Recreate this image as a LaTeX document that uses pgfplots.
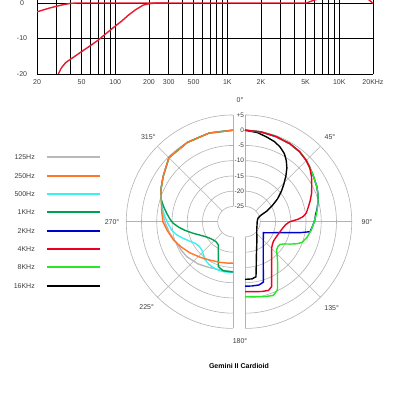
\documentclass[border=0pt]{standalone}
\usepackage{fontspec}
\setmainfont{Liberation Sans}
\usepackage{pgfplots}
\usepackage{pgfplotstable}
\pgfplotsset{compat=1.18}

\definecolor{c125}{RGB}{185,185,185}
\definecolor{c250}{RGB}{255,118,40}
\definecolor{c500}{RGB}{60,240,240}
\definecolor{c1k}{RGB}{0,160,80}
\definecolor{c2k}{RGB}{0,0,205}
\definecolor{c4k}{RGB}{235,0,30}
\definecolor{c8k}{RGB}{40,230,40}
\definecolor{c16k}{RGB}{0,0,0}
\definecolor{fr}{RGB}{230,25,45}
\definecolor{ring}{RGB}{178,178,178}
\definecolor{lbl}{RGB}{60,60,60}

% frequency response (Hz, dB)
\pgfplotstableread{
f db
20 -2.5
23 -1.9
26 -1.4
30 -0.9
35 -0.4
40 -0.1
45 0
100 0
1000 0
5100 0
5500 0.4
6100 0.9
7000 1.6
9000 2.2
14000 2.2
17000 1.6
18200 1.0
19200 0.4
20000 -0.2
}\respFlat
\pgfplotstableread{
f db
31 -20
33 -18.3
36 -16.8
40 -15.8
45 -14.7
50 -13.7
60 -12.0
70 -10.5
85 -8.3
100 -6.5
115 -5.0
130 -3.5
150 -2.0
177 -0.6
200 -0.2
230 0
300 0
}\respCut

% polar responses: angle (deg, clockwise from front), level (dB)
\pgfplotstableread{
a db
360 0
345 0.1
330 0
315 -0.3
303 -2.7
295 -4.0
287 -5.4
278 -6.6
270 -7.6
260 -8.9
249 -10.2
240 -10.7
233 -11.0
220 -12.0
210 -12.9
195 -13.6
180 -13.6
}\pOneTwoFive
\pgfplotstableread{
a db
360 0
345 0.1
330 0
315 -0.3
303 -2.7
295 -4.0
287 -5.4
278 -6.4
270 -7.0
262 -8.3
253 -9.6
244 -11.1
234 -12.6
222 -14.2
211 -15.3
198 -16.0
188 -16.3
180 -16.4
}\pTwoFifty
\pgfplotstableread{
a db
360 0
345 0.1
330 0
315 -0.3
303 -2.7
295 -4.0
287 -5.4
281 -6.4
274.2 -7.6
268 -8.7
262.3 -9.7
257 -11.0
251.5 -12.8
245 -14.6
240.4 -15.7
234 -16.3
227.9 -16.2
222 -15.5
216.2 -14.5
210 -14.0
205.3 -13.7
196.9 -13.4
190 -13.3
180 -13.4
}\pFiveHundred
\pgfplotstableread{
a db
360 0
345 0.1
330 0
315 -0.3
303 -2.7
295 -4.0
287 -5.4
282 -6.8
277.2 -8.1
272 -9.4
268.5 -10.4
264 -12.2
259.8 -14.0
254 -16.3
248 -18.3
241 -19.8
234.2 -20.7
227 -21.2
220.4 -21.4
212.3 -21.0
207.5 -19.5
202 -17.2
198.1 -14.5
191.2 -13.6
180 -13.5
}\pOneK
\pgfplotstableread{
a db
0 0
10 -0.1
20 -0.3
30 -0.5
38 -0.9
45 -1.6
50 -2.3
56 -3.0
64 -3.8
70 -4.5
76 -5.4
80 -6.0
84 -6.7
88.6 -7.1
93 -7.7
98.7 -8.4
101.3 -11.6
103.7 -14.8
107.4 -18.0
113.7 -21.0
121 -23.0
141.8 -20.3
154.5 -16.1
161.05 -11.5
163.1 -9.3
167.5 -8.75
173.8 -8.8
180 -8.85
}\pTwoK
\pgfplotstableread{
a db
0 0
10 -0.1
20 -0.3
30 -0.5
38 -0.9
45 -1.6
50 -2.3
56 -3.7
62 -5.2
67 -6.3
72 -7.5
77 -8.7
82 -9.7
85 -10.9
87.5 -12.7
90 -15.3
94 -16.6
100 -17.5
108 -18.2
116 -18.6
124 -18.7
130 -18.3
134 -17.8
137 -17.2
141.5 -16.0
145.1 -14.7
151.1 -11.9
155.4 -9.0
157.7 -7.0
161.1 -6.2
166.3 -6.45
172.7 -6.86
180 -7.05
}\pFourK
\pgfplotstableread{
a db
0 0
10 -0.1
20 -0.3
30 -0.5
38 -0.9
45 -1.6
50 -2.3
56 -3.0
64 -3.8
70 -4.5
76 -5.4
83 -6.3
90 -7.3
97 -8.1
104 -9.0
110 -10.1
113 -11.5
116.4 -13.5
119.5 -15.2
122.9 -16.3
127 -16.5
131.8 -16.1
140 -13.4
146 -10.9
150 -8.7
154.6 -5.2
159.2 -4.1
165 -4.6
172.4 -5.2
180 -5.4
}\pEightK
\pgfplotstableread{
a db
0 0
8 -0.5
14 -1.3
20 -2.0
25 -2.9
30 -4.2
34 -5.8
38 -7.7
42 -10.0
46 -12.3
50 -14.4
55 -17.0
59 -19.4
64 -22.0
68 -24.4
74 -25.5
80 -25.8
90 -26.0
125.1 -25.3
147.2 -22.8
161 -18.5
166.4 -14.4
168.7 -11.6
173 -11.1
180 -11.1
}\pSixteenK

% each half of the polar plot has its own centre
\pgfplotsset{
  table/left half/.style={
    x expr={233+3.05*(\thisrow{db}+30)*sin(\thisrow{a})},
    y expr={178.3+3.05*(\thisrow{db}+30)*cos(\thisrow{a})}},
  table/right half/.style={
    x expr={245+3.05*(\thisrow{db}+30)*sin(\thisrow{a})},
    y expr={178.3+3.05*(\thisrow{db}+30)*cos(\thisrow{a})}},
}

\newcommand\sm{\fontsize{7}{8}\selectfont}
% one row of the key: vertical position, colour, text
\newcommand\keyrow[3]{%
  \node[anchor=east, inner sep=0pt, text=lbl, font=\sm] at (35,#1) {#3};
  \fill[#2] (46.5,#1-1) rectangle (100,#1+1);
}

\begin{document}
\begin{tikzpicture}[x=1pt,y=1pt]
\useasboundingbox (0,0) rectangle (400,400);

% ---------- frequency response ----------
\begin{axis}[
  at={(37pt,326pt)}, anchor=south west,
  scale only axis, width=336pt, height=74pt,
  xmode=log, xmin=20, xmax=20000, ymin=-20, ymax=0.85,
  axis line style={draw=none},
  xtick={20,50,100,200,300,500,1000,2000,5000,10000,20000},
  xticklabels={20,50,100,200,300,500,1K,2K,5K,10K,20KHz},
  minor xtick={30,40,60,70,80,90,400,600,700,800,900,3000,4000,6000,7000,8000,9000},
  ytick={-20,-10,0},
  grid=both,
  major grid style={black, line width=0.7pt},
  minor grid style={black, line width=0.7pt},
  major tick length=0pt, minor tick length=0pt,
  tick label style={font=\sm, text=lbl},
  /pgf/number format/assume math mode=true,
  xticklabel style={yshift=-2.5pt},
  yticklabel style={anchor=center, xshift=-15pt},
]
\addplot[fr, line width=1.4pt] table[x=f, y=db] {\respFlat};
\addplot[fr, line width=1.4pt] table[x=f, y=db] {\respCut};
\end{axis}

% ---------- polar grid ----------
\begin{scope}[ring, line width=0.6pt]
  \foreach \r in {15.25,30.5,45.75,61,76.25,91.5,106.75} {
    \draw (245,178.3+\r) arc[start angle=90, end angle=-90, radius=\r];
    \draw (233,178.3+\r) arc[start angle=90, end angle=270, radius=\r];
  }
  \foreach \a in {0,45,90,135,180} {
    \draw[shift={(245,178.3)}] ({90-\a}:15.25) -- ({90-\a}:106.75);
  }
  \foreach \a in {180,225,270,315,360} {
    \draw[shift={(233,178.3)}] ({90-\a}:15.25) -- ({90-\a}:106.75);
  }
\end{scope}

% level labels
\foreach \v/\r in {+5/106.75,0/91.5,-5/76.25,-10/61,-15/45.75,-20/30.5,-25/15.25} {
  \node[anchor=east, inner sep=0pt, text=lbl, font=\fontsize{6.5}{7}\selectfont] at (244.3,178.3+\r) {\v};
}

% angle labels
\begin{scope}[text=lbl, font=\sm]
  \node at (240,300) {0°};
  \node at (330,263.3) {45°};
  \node at (367,178.3) {90°};
  \node at (331.7,91.7) {135°};
  \node at (240,59) {180°};
  \node at (146.7,93.3) {225°};
  \node at (112,178.3) {270°};
  \node at (148.3,263.3) {315°};
\end{scope}

% key
\keyrow{243}{c125}{125Hz}
\keyrow{224}{c250}{250Hz}
\keyrow{206}{c500}{500Hz}
\keyrow{188}{c1k}{1KHz}
\keyrow{169}{c2k}{2KHz}
\keyrow{151}{c4k}{4KHz}
\keyrow{133}{c8k}{8KHz}
\keyrow{114}{c16k}{16KHz}

\node[font=\sm\bfseries] at (239,34) {Gemini II Cardioid};

% ---------- polar responses ----------
\begin{axis}[
  at={(0pt,0pt)}, anchor=south west,
  scale only axis, width=400pt, height=400pt,
  xmin=0, xmax=400, ymin=0, ymax=400,
  hide axis, clip=false,
]
\addplot[c125, line width=1.4pt] table[left half] {\pOneTwoFive};
\addplot[c500, line width=1.4pt] table[left half] {\pFiveHundred};
\addplot[c1k, line width=1.4pt] table[left half] {\pOneK};
\addplot[c250, line width=1.4pt] table[left half] {\pTwoFifty};
\addplot[c16k, line width=1.4pt] table[right half] {\pSixteenK};
\addplot[c2k, line width=1.4pt] table[right half] {\pTwoK};
\addplot[c8k, line width=1.4pt] table[right half] {\pEightK};
\addplot[c4k, line width=1.4pt] table[right half] {\pFourK};
\end{axis}
\end{tikzpicture}
\end{document}
